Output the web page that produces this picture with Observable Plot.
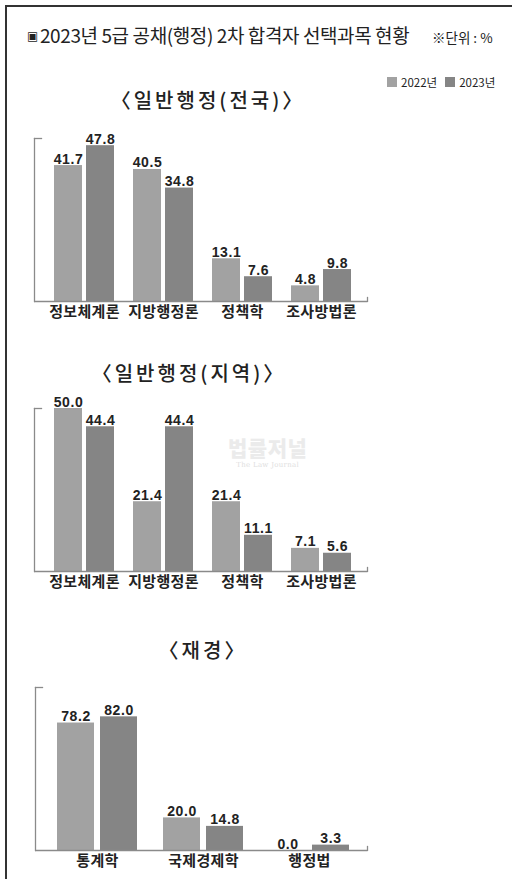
<!DOCTYPE html>
<html>
<head>
<meta charset="utf-8">
<script src="https://cdn.jsdelivr.net/npm/d3@7"></script>
<script src="https://cdn.jsdelivr.net/npm/@observablehq/plot@0.6"></script>
<style>
  html, body { margin: 0; padding: 0; background: #fff; }
  body { width: 512px; height: 879px; position: relative; overflow: hidden;
         font-family: "Liberation Sans Narrow", "Noto Sans CJK KR", sans-serif; color: #222; }
  .frame { position: absolute; left: 5px; top: 5px; right: -10px; bottom: -10px;
           border-top: 2px solid #333; border-left: 2px solid #333; }
  .abs { position: absolute; white-space: nowrap; }
  #title { left: 27px; top: 22px; font-size: 19px; line-height: 26px; letter-spacing: -0.4px; }
  #title .sq { font-family: "DejaVu Sans", sans-serif; font-size: 12px; vertical-align: 3px; margin-right: 2px; }
  #unit { left: 432px; top: 28px; font-size: 13.5px; line-height: 18px; }
  #legend { left: 387px; top: 74px; font-size: 11.5px; line-height: 16px; display: flex; align-items: center; }
  #legend .sw { display: inline-block; width: 10px; height: 10px; margin-right: 4px; }
  .ctitle { font-family: "Noto Sans CJK KR", sans-serif; font-weight: 500; font-size: 20px;
            line-height: 24px; letter-spacing: 3px; transform: translateX(-50%); }
  .chart { position: absolute; left: 0; }
  .vlabel text { font-family: "Liberation Sans", Arial, sans-serif; letter-spacing: 0.6px; }
  .catlabel text { font-family: "Noto Sans CJK KR", sans-serif; letter-spacing: 0.3px; }
  #wm { left: 228px; top: 436px; color: #ebebeb; font-family: "Noto Sans CJK KR", sans-serif;
        font-weight: 900; font-size: 21px; line-height: 23px; letter-spacing: 0.5px; text-align: center; }
  #wm small { display: block; margin-top: 2px; font-family: "DejaVu Serif", serif; font-size: 7px; line-height: 9px; font-weight: normal; color: #e0e0e0; letter-spacing: 0.3px; }
</style>
</head>
<body>
<div class="frame"></div>
<div id="title" class="abs"><span class="sq">▣</span>2023년 5급 공채(행정) 2차 합격자 선택과목 현황</div>
<div id="unit" class="abs">※단위 : %</div>
<div id="legend" class="abs"></div>
<div id="t1" class="abs ctitle"></div>
<div id="t2" class="abs ctitle"></div>
<div id="t3" class="abs ctitle"></div>
<div id="wm" class="abs">법률저널<small>The Law Journal</small></div>
<div id="c1" class="chart"></div>
<div id="c2" class="chart"></div>
<div id="c3" class="chart"></div>
<script>
// ---- data ----
const years = ["2022년", "2023년"];
const chartTitles = ["〈일반행정(전국)〉", "〈일반행정(지역)〉", "〈재경〉"];
const subjectsGeneral = ["정보체계론", "지방행정론", "정책학", "조사방법론"];
const national2022 = [41.7, 40.5, 13.1, 4.8];
const national2023 = [47.8, 34.8, 7.6, 9.8];
const regional2022 = [50.0, 21.4, 21.4, 7.1];
const regional2023 = [44.4, 44.4, 11.1, 5.6];
const subjectsFinance = ["통계학", "국제경제학", "행정법"];
const finance2022 = [78.2, 20.0, 0.0];
const finance2023 = [82.0, 14.8, 3.3];

// ---- styles ----
const colors = ["#a2a2a2", "#858585"];
const axisColor = "#8a8a8a";

// legend
const legend = document.getElementById("legend");
years.forEach((y, i) => {
  const sw = document.createElement("span");
  sw.className = "sw"; sw.style.background = colors[i];
  const t = document.createElement("span");
  t.textContent = y; t.style.marginRight = i === 0 ? "8px" : "0";
  legend.append(sw, t);
});

function place(id, text, cx, cy) {
  const el = document.getElementById(id);
  el.textContent = text;
  el.style.left = cx + "px";
  el.style.top = (cy - 12) + "px";
}
place("t1", chartTitles[0], 208, 100);
place("t2", chartTitles[1], 189, 373);
place("t3", chartTitles[2], 203, 650);

function chart(subjects, v22, v23, ymax, cfg) {
  const width = 400, frameH = 163, mt = 25, mb = 30;
  const ml = cfg.ml, mr = cfg.mr;
  const rows22 = subjects.map((s, i) => ({subject: s, value: v22[i]}));
  const rows23 = subjects.map((s, i) => ({subject: s, value: v23[i]}));
  const band = d3.scaleBand(subjects, [ml, width - mr])
    .paddingInner(cfg.pi).paddingOuter(cfg.po).align(cfg.align);
  const bw = band.bandwidth();
  const gap = cfg.gap;
  const inset = (bw + gap) / 2;
  const off = (bw + gap) / 4;
  const fw = width - ml - mr;
  const lbl = {x: "subject", y: "value", text: d => d.value.toFixed(1), lineAnchor: "bottom",
               dy: -2, fontSize: 14, fontWeight: "bold", fill: "#222", className: "vlabel"};
  return Plot.plot({
    width, height: mt + frameH + mb,
    marginLeft: ml, marginRight: mr, marginTop: mt, marginBottom: mb,
    style: {background: "transparent", overflow: "visible"},
    x: {domain: subjects, paddingInner: cfg.pi, paddingOuter: cfg.po, align: cfg.align, axis: null, label: null},
    y: {domain: [0, ymax], axis: null},
    marks: [
      Plot.frame({anchor: "left", stroke: axisColor, strokeWidth: 1.3}),
      Plot.frame({anchor: "top", stroke: axisColor, strokeWidth: 1.3, insetRight: fw - 7}),
      Plot.frame({anchor: "right", stroke: axisColor, strokeWidth: 1.3, insetTop: frameH - 4}),
      Plot.barY(rows22, {x: "subject", y: "value", fill: colors[0], insetRight: inset}),
      Plot.barY(rows23, {x: "subject", y: "value", fill: colors[1], insetLeft: inset}),
      Plot.ruleY([0], {stroke: axisColor, strokeWidth: 1.3}),
      Plot.text(rows22, {...lbl, dx: -off}),
      Plot.text(rows23, {...lbl, dx: off}),
      Plot.axisX({tickSize: 0, tickPadding: 5, fontSize: 15, fontWeight: "bold", label: null,
                  fill: "#222", className: "catlabel"})
    ]
  });
}

const c1 = chart(subjectsGeneral, national2022, national2023, 50,
  {ml: 34, mr: 33, pi: 0.2375, po: 0.2, align: 0.5625, gap: 3});
const c2 = chart(subjectsGeneral, regional2022, regional2023, 50,
  {ml: 34, mr: 33, pi: 0.2375, po: 0.2, align: 0.5625, gap: 3});
const c3 = chart(subjectsFinance, finance2022, finance2023, 100,
  {ml: 35, mr: 33, pi: 0.243, po: 0.173, align: 0.55, gap: 5});

const e1 = document.getElementById("c1"); e1.style.top = "113px"; e1.append(c1);
const e2 = document.getElementById("c2"); e2.style.top = "383px"; e2.append(c2);
const e3 = document.getElementById("c3"); e3.style.top = "662px"; e3.append(c3);
</script>
</body>
</html>
